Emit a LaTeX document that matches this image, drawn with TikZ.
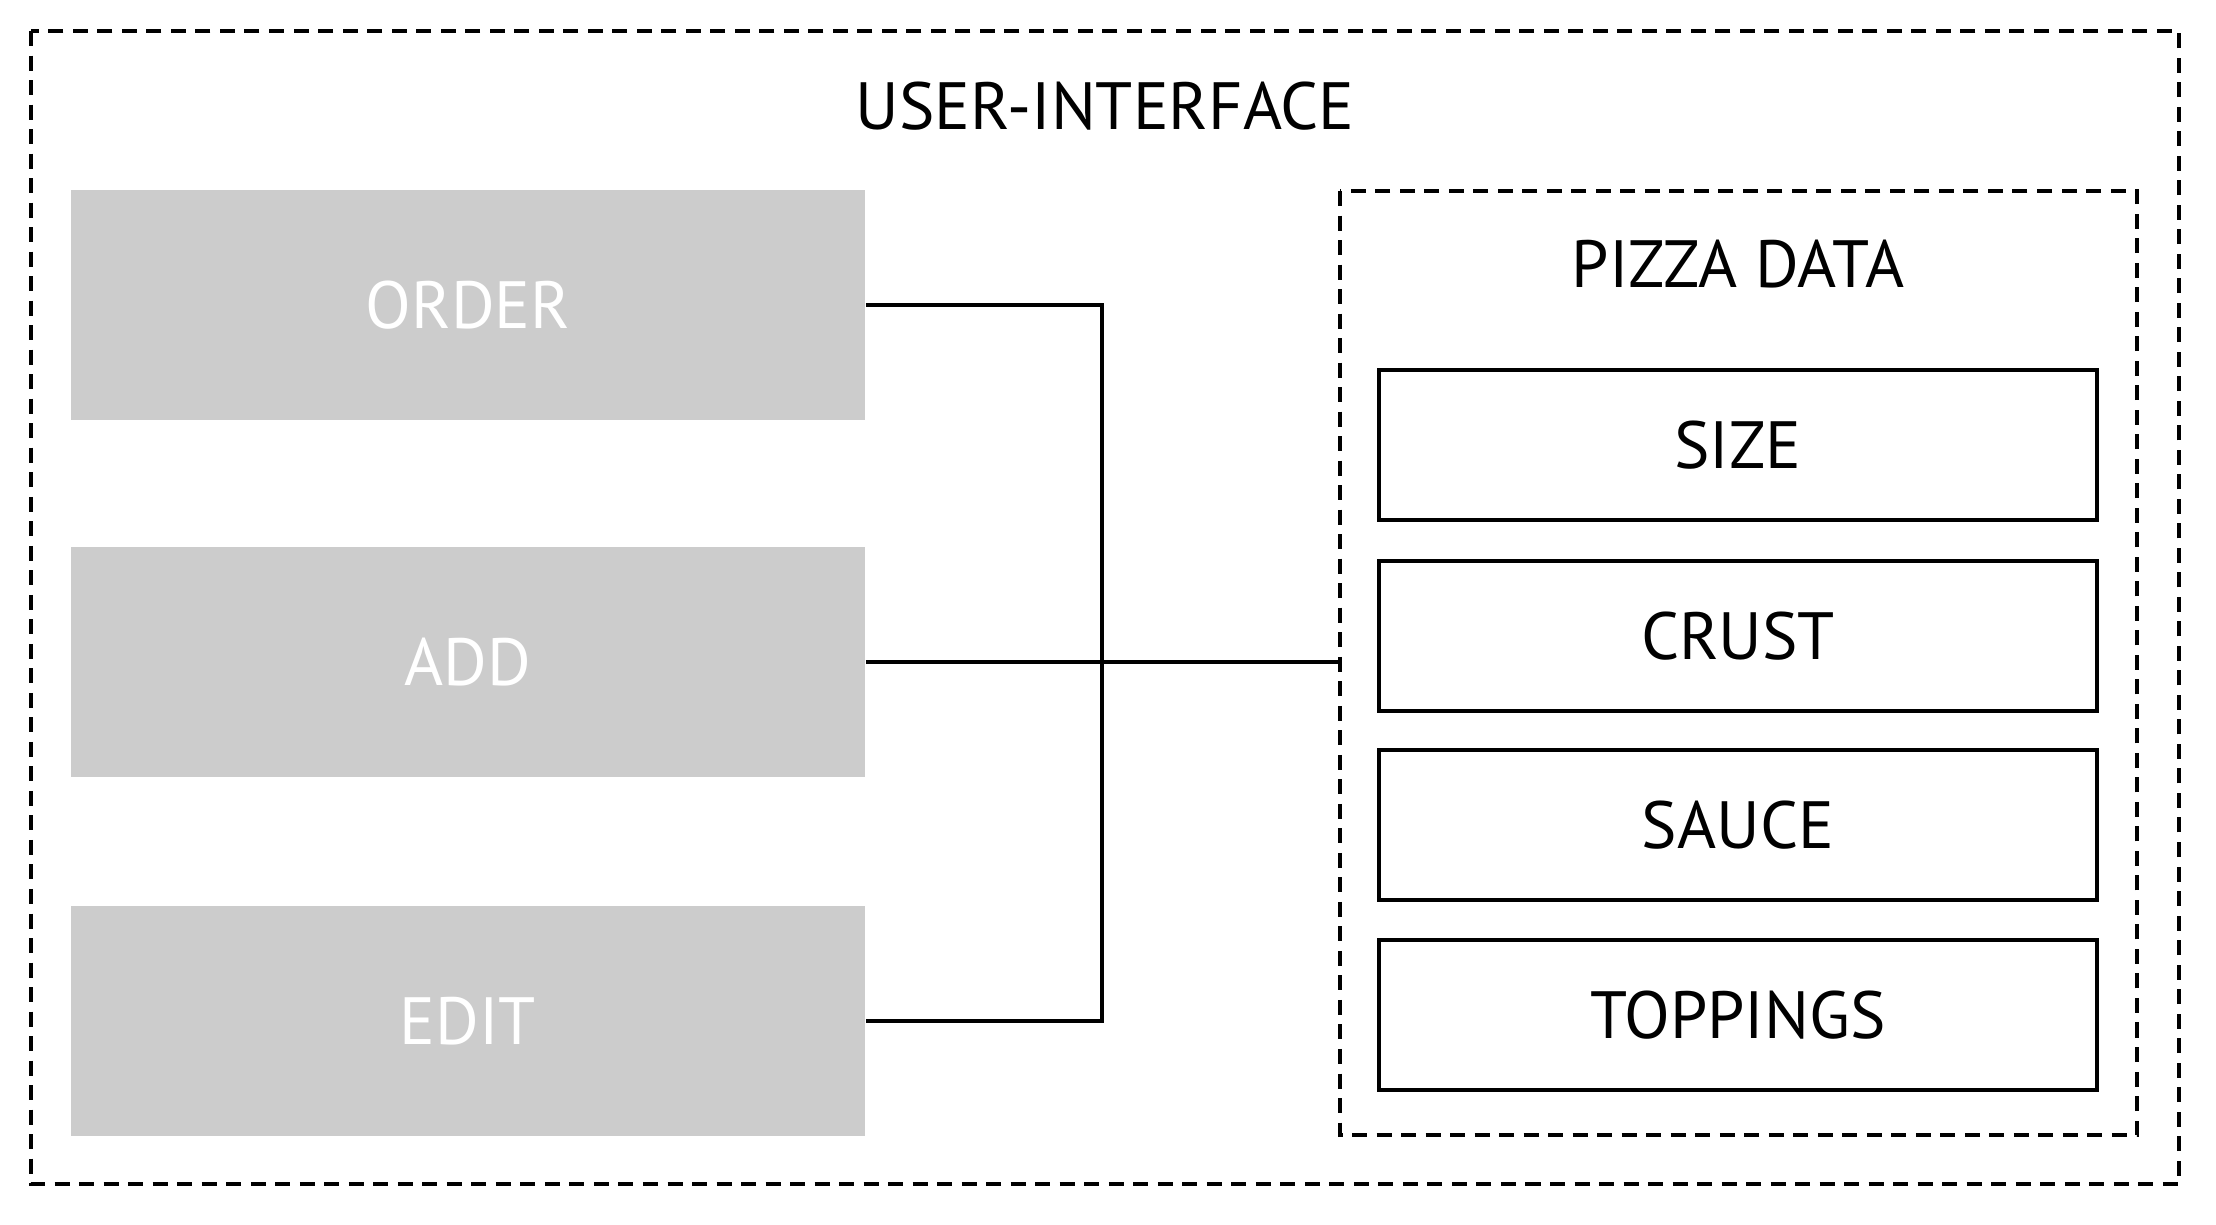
\documentclass[tikz,border=0pt]{standalone}
\usepackage{fontspec}
\setmainfont{PT Sans}
\begin{document}
\begin{tikzpicture}[x=0.01cm, y=-0.01cm,
		every node/.style={font=\fontsize{19}{22}\selectfont},
		frame/.style={draw, line width=1.15pt, dash pattern=on 0.15cm off 0.095cm},
		uibox/.style={fill=uigrey, text=white, minimum width=7.94cm, minimum height=2.29cm, inner sep=0pt},
		databox/.style={draw, line width=1.15pt, minimum width=7.18cm, minimum height=1.5cm, inner sep=0pt}]
		\definecolor{uigrey}{HTML}{CCCCCC}
		\useasboundingbox (0,0) rectangle (2216,1224);
		
		% outer frame and title
		\draw[frame] (31,31) rectangle (2179,1184);
		\node (ui) at (1105,106) {USER-INTERFACE};
		
		% left column
		\node[uibox] (order) at (468,305) {ORDER};
		\node[uibox] (add) at (468,662) {ADD};
		\node[uibox] (edit) at (468,1021) {EDIT};
		
		% pizza data group
		\draw[frame] (1340,191) rectangle (2137,1135);
		\coordinate (pizza) at (1340,662);
		\node (data) at (1738,264) {PIZZA DATA};
		\node[databox] (size) at (1738,445) {SIZE};
		\node[databox] (crust) at (1738,636) {CRUST};
		\node[databox] (sauce) at (1738,825) {SAUCE};
		\node[databox] (toppings) at (1738,1015) {TOPPINGS};
		
		% connectors
		\coordinate (bus) at (1102,662);
		\draw[line width=1pt] (order.east) -| (bus) |- (edit.east);
		\draw[line width=1pt] (add.east) -- (pizza);
		
\end{tikzpicture}
\end{document}
